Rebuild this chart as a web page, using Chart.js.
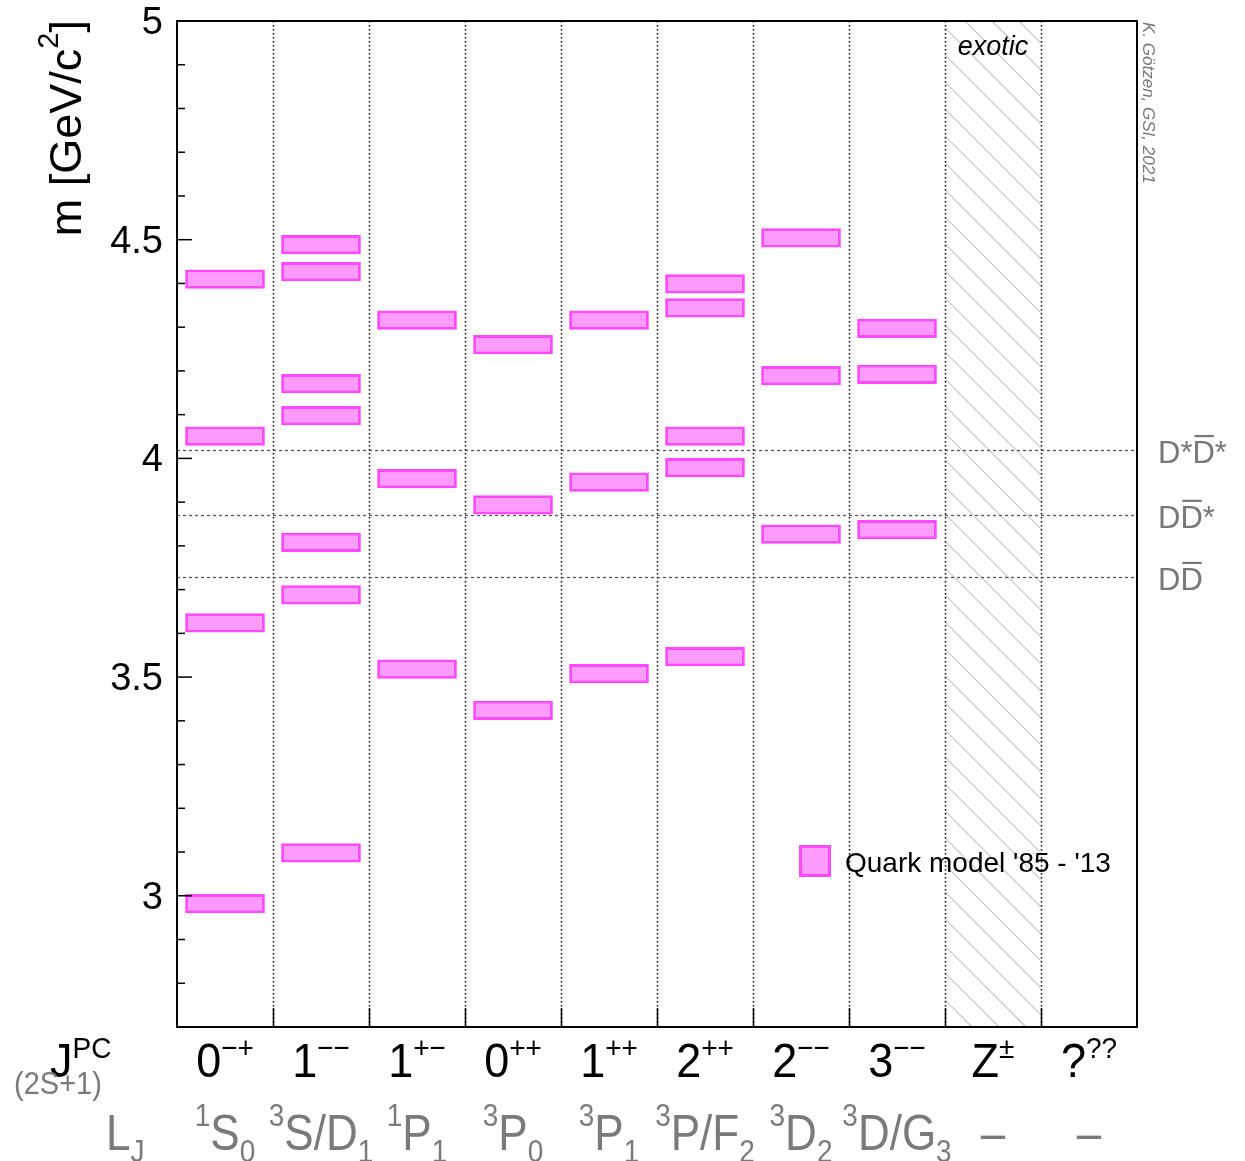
<!DOCTYPE html>
<html>
<head>
<meta charset="utf-8">
<script src="https://cdn.jsdelivr.net/npm/chart.js@4.4.1/dist/chart.umd.min.js"></script>
<style>
html,body{margin:0;padding:0;background:#fff;}
canvas{display:block;}
</style>
</head>
<body>
<canvas id="c" width="1245" height="1161"></canvas>
<script>
// J^PC row and spectroscopic row
var jpcMain = ["0","1","1","0","1","2","2","3","Z","?"];
var jpcSup  = ["\u2212+","\u2212\u2212","+\u2212","++","++","++","\u2212\u2212","\u2212\u2212","\u00b1","??"];
var termSup  = ["1","3","1","3","3","3","3","3","",""];
var termMain = ["S","S/D","P","P","P","P/F","D","D/G","\u2013","\u2013"];
var termSub  = ["0","1","1","0","1","2","2","3","",""];

// quark model masses (GeV/c^2) per J^PC column
var mass0mp = [4.410, 4.051, 3.624, 2.982];
var mass1mm = [4.489, 4.427, 4.171, 4.098, 3.808, 3.688, 3.098];
var mass1pm = [4.316, 3.954, 3.518];
var mass0pp = [4.260, 3.894, 3.424];
var mass1pp = [4.316, 3.946, 3.508];
var mass2pp = [4.399, 4.344, 4.051, 3.979, 3.547];
var mass2mm = [4.504, 4.189, 3.827];
var mass3mm = [4.297, 4.192, 3.837];
var massZ   = [];
var massUnk = [];
var masses = [mass0mp, mass1mm, mass1pm, mass0pp, mass1pp, mass2pp, mass2mm, mass3mm, massZ, massUnk];

// open charm thresholds
var thrMass  = [4.019, 3.871, 3.729];
var thrLeft  = ["D*", "D", "D"];
var thrBar   = ["D", "D", "D"];
var thrRight = ["*", "*", ""];

var yTicks = [3, 3.5, 4, 4.5, 5];

var FONT = '"Liberation Sans", Arial, Helvetica, sans-serif';
var HALF = 0.022;
var FILL = "#ff9aff", EDGE = "#ff48ff";

var nLevels = 0;
masses.forEach(function(c){ if(c.length>nLevels) nLevels=c.length; });
var datasets = [];
for (var k=0;k<nLevels;k++){
  datasets.push({
    label: "Quark model '85 - '13",
    data: masses.map(function(c){ return k<c.length ? [c[k]-HALF, c[k]+HALF] : null; }),
    backgroundColor: FILL, borderColor: EDGE, borderWidth: 3, borderSkipped: false,
    grouped: false, barPercentage: 0.83, categoryPercentage: 1.0
  });
}

function pieces(ctx, list){
  var w = 0;
  list.forEach(function(p){ ctx.font = p.f; p.w = ctx.measureText(p.t).width; w += p.w; });
  return w;
}
function drawPieces(ctx, list, x, y){
  list.forEach(function(p){ ctx.font = p.f; ctx.fillText(p.t, x, y + (p.dy||0)); x += p.w; });
}
// draw pieces stretched vertically around baseline y
function drawTall(ctx, list, x, y, sy){
  ctx.save();
  ctx.translate(0, y); ctx.scale(1, sy);
  drawPieces(ctx, list, x, 0);
  ctx.restore();
}

var deco = {
  id: "deco",
  beforeDatasetsDraw: function(chart){
    var ctx = chart.ctx, a = chart.chartArea, xs = chart.scales.x, ys = chart.scales.y;
    var n = jpcMain.length;
    function edge(i){ return (xs.getPixelForValue(i-1)+xs.getPixelForValue(i))/2; }
    ctx.save();
    // hatched exotic column
    var hl = edge(8), hr = edge(9), H = a.bottom - a.top;
    ctx.beginPath(); ctx.rect(hl, a.top, hr-hl, H); ctx.clip();
    ctx.strokeStyle = "#c4c4c4"; ctx.lineWidth = 1.2;
    for (var s = -H; s < hr-hl; s += 27){
      ctx.beginPath(); ctx.moveTo(hl+s, a.top); ctx.lineTo(hl+s+H, a.top+H); ctx.stroke();
    }
    ctx.restore();
    ctx.save();
    // dotted column separators
    ctx.strokeStyle = "#111"; ctx.lineWidth = 1.6; ctx.setLineDash([1.6, 2.4]);
    for (var i=1;i<n;i++){
      var x = Math.round(edge(i))+0.5;
      ctx.beginPath(); ctx.moveTo(x, a.top); ctx.lineTo(x, a.bottom); ctx.stroke();
    }
    // threshold lines
    ctx.strokeStyle = "#555"; ctx.lineWidth = 1.3; ctx.setLineDash([3, 3]);
    thrMass.forEach(function(m){
      var y = Math.round(ys.getPixelForValue(m))+0.5;
      ctx.beginPath(); ctx.moveTo(a.left, y); ctx.lineTo(a.right, y); ctx.stroke();
    });
    ctx.restore();
  },
  afterDatasetsDraw: function(chart){
    var ctx = chart.ctx, a = chart.chartArea, xs = chart.scales.x, ys = chart.scales.y;
    var n = jpcMain.length;
    function edge(i){ return (xs.getPixelForValue(i-1)+xs.getPixelForValue(i))/2; }
    ctx.save();
    // frame
    ctx.strokeStyle = "#000"; ctx.lineWidth = 2;
    ctx.strokeRect(a.left, a.top, a.right-a.left, a.bottom-a.top);
    // y ticks inside
    ctx.lineWidth = 1.5;
    for (var v=27; v<=50; v++){
      var y = ys.getPixelForValue(v/10), len = (v%5===0) ? 15 : 8;
      ctx.beginPath(); ctx.moveTo(a.left, y); ctx.lineTo(a.left+len, y); ctx.stroke();
    }
    // x ticks at column edges
    for (var i=1;i<n;i++){
      var x = Math.round(edge(i))+0.5;
      ctx.beginPath(); ctx.moveTo(x, a.bottom); ctx.lineTo(x, a.bottom-19); ctx.stroke();
    }
    // y tick labels
    ctx.fillStyle = "#000"; ctx.textAlign = "right"; ctx.textBaseline = "alphabetic";
    ctx.font = "38px " + FONT;
    yTicks.forEach(function(t){ ctx.fillText(String(t), a.left-14, ys.getPixelForValue(t)+13); });
    // y title
    ctx.save();
    ctx.translate(81, a.top-1); ctx.rotate(-Math.PI/2);
    ctx.textAlign = "left";
    var tt = [{t:"m [GeV/c", f:"45px "+FONT},{t:"2", f:"29px "+FONT, dy:-23},{t:"]", f:"45px "+FONT}];
    var tw = pieces(ctx, tt);
    drawPieces(ctx, tt, -tw, 0);
    ctx.restore();
    // category labels
    ctx.textAlign = "left";
    for (var j=0;j<n;j++){
      var cx = xs.getPixelForValue(j);
      var r1 = [{t:jpcMain[j], f:"45px "+FONT},{t:jpcSup[j], f:"28px "+FONT, dy:-18}];
      ctx.fillStyle = "#000";
      drawTall(ctx, r1, cx - pieces(ctx, r1)/2, 1077, 1.08);
      var r2 = [{t:termSup[j], f:"28px "+FONT, dy:-21},{t:termMain[j], f:"44px "+FONT},{t:termSub[j], f:"28px "+FONT, dy:10}];
      ctx.fillStyle = "#7a7a7a";
      drawTall(ctx, r2, cx - pieces(ctx, r2)/2, 1150, 1.15);
    }
    // row headers
    ctx.fillStyle = "#000";
    var h1 = [{t:"J", f:"45px "+FONT},{t:"PC", f:"28px "+FONT, dy:-18}];
    pieces(ctx, h1); drawTall(ctx, h1, 50, 1077, 1.08);
    ctx.fillStyle = "#7a7a7a";
    var hs = [{t:"(2S+1)", f:"29px "+FONT}];
    pieces(ctx, hs); drawTall(ctx, hs, 14, 1094, 1.1);
    var hl2 = [{t:"L", f:"44px "+FONT},{t:"J", f:"28px "+FONT, dy:10}];
    pieces(ctx, hl2); drawTall(ctx, hl2, 106, 1150, 1.15);
    // threshold labels
    ctx.fillStyle = "#777"; ctx.strokeStyle = "#777"; ctx.lineWidth = 2.2;
    thrMass.forEach(function(m, q){
      var y = ys.getPixelForValue(m) + 13;
      var p = [{t:thrLeft[q], f:"31px "+FONT},{t:thrBar[q], f:"31px "+FONT},{t:thrRight[q], f:"31px "+FONT}];
      pieces(ctx, p);
      var x0 = 1158;
      drawPieces(ctx, p, x0, y);
      var bx = x0 + p[0].w;
      ctx.beginPath(); ctx.moveTo(bx+2, y-27); ctx.lineTo(bx+p[1].w-1, y-27); ctx.stroke();
    });
    // exotic label
    ctx.fillStyle = "#000"; ctx.textAlign = "center";
    ctx.font = "italic 27px " + FONT;
    ctx.fillText("exotic", xs.getPixelForValue(8), a.top+34);
    // author
    ctx.save();
    ctx.translate(1143, 22); ctx.rotate(Math.PI/2);
    ctx.textAlign = "left"; ctx.fillStyle = "#777";
    ctx.font = "italic 17px " + FONT;
    ctx.fillText("K. G\u00f6tzen, GSI, 2021", 0, 0);
    ctx.restore();
    // legend
    ctx.fillStyle = FILL; ctx.fillRect(799, 845, 32, 32);
    ctx.strokeStyle = EDGE; ctx.lineWidth = 3; ctx.strokeRect(800.5, 846.5, 29, 29);
    ctx.fillStyle = "#000"; ctx.textAlign = "left";
    ctx.font = "28px " + FONT;
    ctx.fillText(datasets[0].label, 845, 872);
    ctx.restore();
  }
};

new Chart(document.getElementById("c"), {
  type: "bar",
  data: { labels: jpcMain.map(function(m,i){ return m + jpcSup[i]; }), datasets: datasets },
  options: {
    responsive: false, animation: false,
    layout: { padding: { left: 177, right: 108, top: 21, bottom: 134 } },
    plugins: { legend: { display: false }, tooltip: { enabled: false } },
    scales: {
      x: { display: false, offset: true },
      y: { display: false, min: 2.7, max: 5.0 }
    }
  },
  plugins: [deco]
});
</script>
</body>
</html>
